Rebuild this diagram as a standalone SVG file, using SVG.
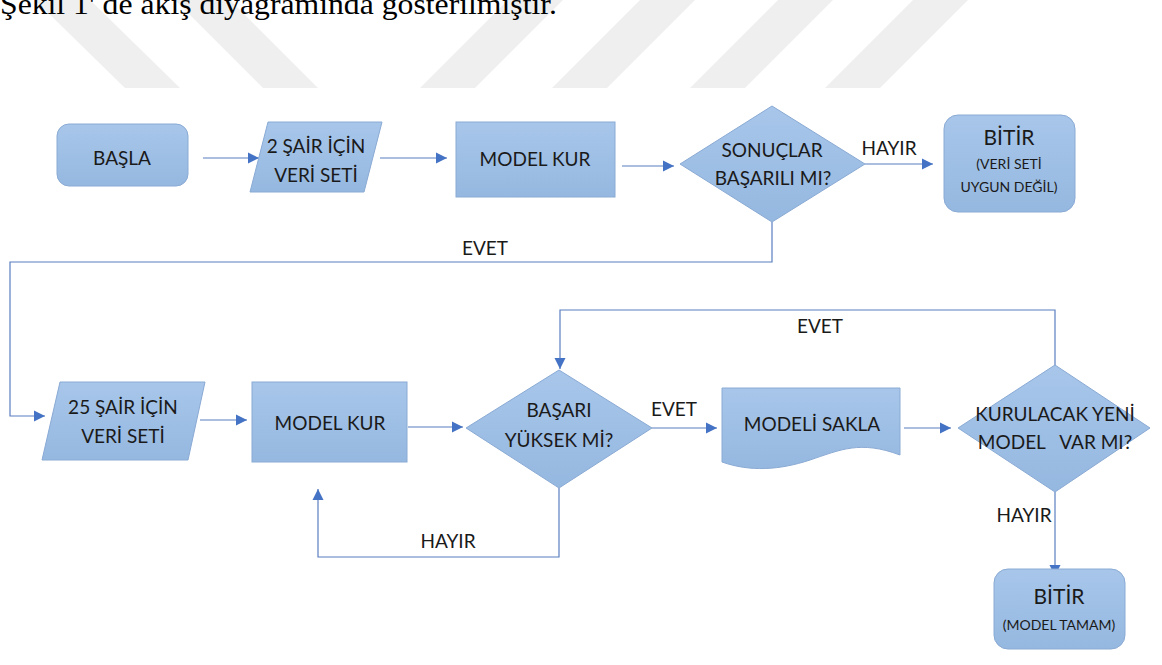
<svg xmlns="http://www.w3.org/2000/svg" width="1162" height="665" viewBox="0 0 1162 665">
<defs>
<linearGradient id="g" x1="0" y1="0" x2="0" y2="1">
<stop offset="0" stop-color="#a8c6ea"/>
<stop offset="1" stop-color="#95b8e0"/>
</linearGradient>
<marker id="ah" markerWidth="12" markerHeight="12" refX="11" refY="6" orient="auto" markerUnits="userSpaceOnUse">
<path d="M0,0.5 L11,6 L0,11.5 z" fill="#4472c4"/>
</marker>
<style>
.n{fill:url(#g);stroke:#8aaad4;stroke-width:1}
.t{font-family:Lato,"Open Sans","Liberation Sans",sans-serif;font-size:19px;fill:#1a1a1a;text-anchor:middle}
.s{font-family:Lato,"Open Sans","Liberation Sans",sans-serif;font-size:14px;fill:#1a1a1a;text-anchor:middle}
.b{font-size:21px}
.c{fill:none;stroke:#5a7fc0;stroke-width:1.2}
.a{marker-end:url(#ah)}
.w{fill:#efefef}
</style>
</defs>
<rect width="1162" height="665" fill="#ffffff"/>
<g id="watermark">
<polygon class="w" points="35,0 90,0 180,88 125,88"/>
<polygon class="w" points="175,0 230,0 318,88 263,88"/>
<polygon class="w" points="508,0 563,0 475,88 420,88"/>
<polygon class="w" points="640,0 695,0 607,88 552,88"/>
<polygon class="w" points="778,0 833,0 745,88 690,88"/>
<polygon class="w" points="913,0 968,0 880,88 825,88"/>
</g>
<text x="0" y="14" font-family="Liberation Serif,serif" font-size="30" fill="#000" textLength="557" lengthAdjust="spacingAndGlyphs">Şekil 1' de akış diyagramında gösterilmiştir.</text>
<g id="connectors">
<line class="c a" x1="203" y1="158" x2="259" y2="158"/>
<line class="c a" x1="380" y1="158" x2="447" y2="158"/>
<line class="c a" x1="622" y1="166" x2="674" y2="166"/>
<line class="c a" x1="865" y1="164" x2="933" y2="164"/>
<polyline class="c a" points="772,222 772,262 10,262 10,416 45,416"/>
<line class="c a" x1="200" y1="420" x2="247" y2="420"/>
<line class="c a" x1="408" y1="427" x2="463" y2="427"/>
<line class="c a" x1="652" y1="428" x2="717" y2="428"/>
<line class="c a" x1="904" y1="428" x2="951" y2="428"/>
<polyline class="c a" points="1055,366 1055,310 560,310 560,369"/>
<polyline class="c a" points="559,488 559,557 318,557 318,489"/>
<line class="c a" x1="1055" y1="492" x2="1055" y2="576"/>
<text class="t" x="889" y="155">HAYIR</text>
<text class="t" x="485" y="255">EVET</text>
<text class="t" x="820" y="333">EVET</text>
<text class="t" x="674" y="416">EVET</text>
<text class="t" x="448" y="548">HAYIR</text>
<text class="t" x="1024" y="522">HAYIR</text>
</g>
<g id="basla">
<rect class="n" x="57" y="124" width="131" height="62" rx="12"/>
<text class="t" x="122" y="165">BAŞLA</text>
</g>
<g id="veri2">
<polygon class="n" points="268,122 382,122 364,192 250,192"/>
<text class="t" x="316" y="153">2 ŞAİR İÇİN</text>
<text class="t" x="316" y="182">VERİ SETİ</text>
</g>
<g id="model1">
<rect class="n" x="456" y="122" width="159" height="75"/>
<text class="t" x="535" y="166">MODEL KUR</text>
</g>
<g id="sonuclar">
<polygon class="n" points="772,106 865,164 772,222 680,164"/>
<text class="t" x="772" y="157">SONUÇLAR</text>
<text class="t" x="773" y="185">BAŞARILI MI?</text>
</g>
<g id="bitir1">
<rect class="n" x="944" y="115" width="131" height="97" rx="14"/>
<text class="t b" x="1009" y="145">BİTİR</text>
<text class="s" x="1009" y="169">(VERİ SETİ</text>
<text class="s" x="1009" y="192">UYGUN DEĞİL)</text>
</g>
<g id="veri25">
<polygon class="n" points="60,382 205,382 188,460 42,460"/>
<text class="t" x="123" y="414">25 ŞAİR İÇİN</text>
<text class="t" x="123" y="443">VERİ SETİ</text>
</g>
<g id="model2">
<rect class="n" x="252" y="382" width="155" height="80"/>
<text class="t" x="330" y="430">MODEL KUR</text>
</g>
<g id="basari">
<polygon class="n" points="559,370 652,428 559,488 466,428"/>
<text class="t" x="559" y="417">BAŞARI</text>
<text class="t" x="559" y="447">YÜKSEK Mİ?</text>
</g>
<g id="sakla">
<path class="n" d="M722,388 H900 V455 C860,440 840,450 810,460 C780,470 750,472 722,462 Z"/>
<text class="t" x="812" y="431">MODELİ SAKLA</text>
</g>
<g id="kurulacak">
<polygon class="n" points="1055,365 1150,428 1055,492 958,428"/>
<text class="t" x="1055" y="421">KURULACAK YENİ</text>
<text class="t" x="1055" y="449" xml:space="preserve">MODEL   VAR MI?</text>
</g>
<g id="bitir2">
<rect class="n" x="994" y="569" width="131" height="80" rx="14"/>
<text class="t b" x="1059" y="604">BİTİR</text>
<text class="s" x="1059" y="630">(MODEL TAMAM)</text>
</g>
</svg>
